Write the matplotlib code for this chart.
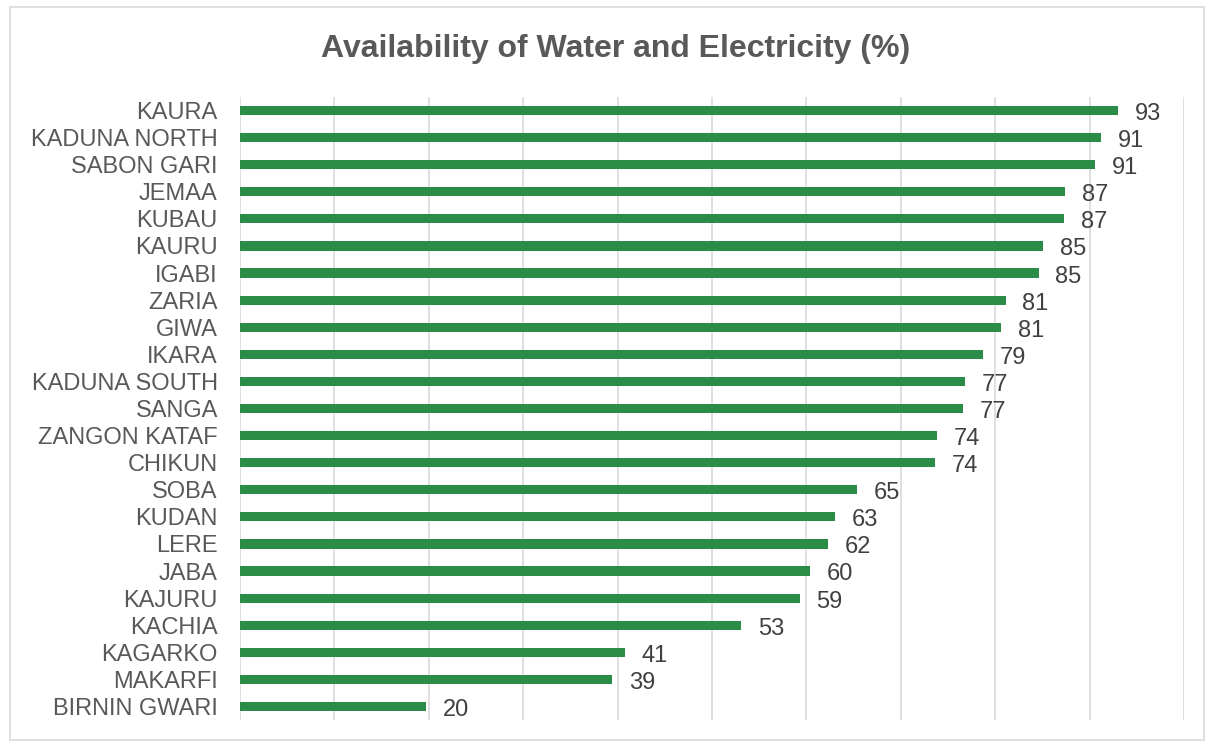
import matplotlib
matplotlib.use("Agg")
import matplotlib.pyplot as plt
from matplotlib.patches import Rectangle

districts = ["KAURA", "KADUNA NORTH", "SABON GARI", "JEMAA", "KUBAU", "KAURU",
             "IGABI", "ZARIA", "GIWA", "IKARA", "KADUNA SOUTH", "SANGA",
             "ZANGON KATAF", "CHIKUN", "SOBA", "KUDAN", "LERE", "JABA",
             "KAJURU", "KACHIA", "KAGARKO", "MAKARFI", "BIRNIN GWARI"]
availability = [93.0, 91.2, 90.6, 87.4, 87.3, 85.1, 84.6, 81.1, 80.6, 78.7,
                76.8, 76.6, 73.8, 73.6, 65.4, 63.0, 62.3, 60.4, 59.3, 53.1,
                40.8, 39.4, 19.7]
title = "Availability of Water and Electricity (%)"

plt.rcParams["font.family"] = ["Liberation Sans", "DejaVu Sans"]

W, H = 1208, 747
fig = plt.figure(figsize=(W / 100, H / 100), dpi=100)
fig.patch.set_facecolor("white")

# chart-area border
fig.add_artist(Rectangle((10 / W, 1 - 740 / H), 1194 / W, 733 / H,
                         transform=fig.transFigure, fill=False,
                         edgecolor="#d9d9d9", linewidth=1.2))

ax = fig.add_axes([240 / W, 1 - 720 / H, (1184 - 240) / W, (720 - 97) / H])
ypos = list(range(len(districts)))
ax.barh(ypos, availability, height=0.34, color="#2B8C47", zorder=3)
ax.set_xlim(0, 100)
ax.set_ylim(len(districts) - 0.5, -0.5)
ax.set_xticks(range(0, 101, 10))
ax.xaxis.grid(True, color="#d9d9d9", linewidth=1.2, zorder=0)
ax.tick_params(axis="x", length=0, labelbottom=False)
ax.tick_params(axis="y", length=0, pad=16)
ax.set_yticks(ypos)
ax.set_yticklabels(districts, fontsize=17, color="#595959")
for s in ax.spines.values():
    s.set_visible(False)

for y, v in zip(ypos, availability):
    ax.annotate(f"{v:.0f}", (v, y), xytext=(12, -2.5), textcoords="offset points",
                va="center", ha="left", fontsize=17, color="#404040")

fig.text(616 / W, 1 - 49 / H, title, ha="center", va="center",
         fontsize=23, fontweight="bold", color="#595959")

fig.savefig("out.png", dpi=100, facecolor="white")
